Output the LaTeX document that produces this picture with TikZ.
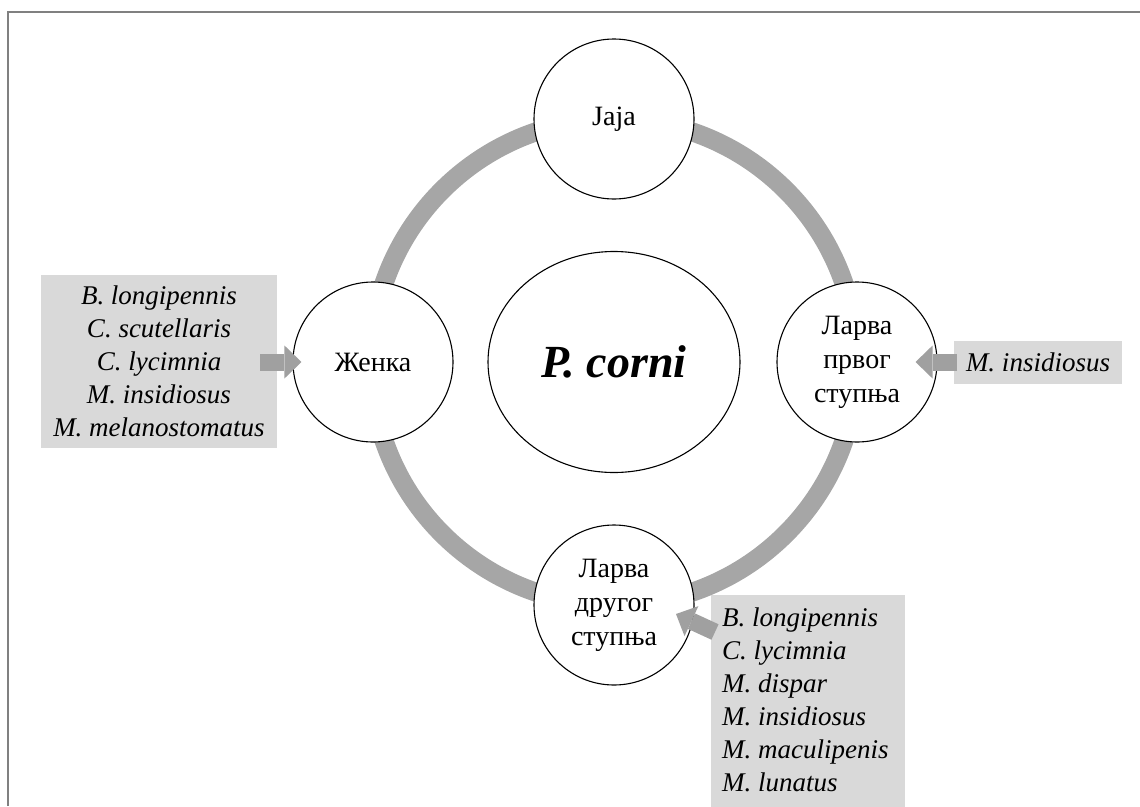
\documentclass[tikz,border=0pt]{standalone}
\usepackage{fontspec}
\setmainfont{Liberation Serif}
\usepackage{tikz}
\usetikzlibrary{arrows.meta,shapes.geometric,positioning,calc}
\usepackage{xcolor}
\definecolor{ringgray}{RGB}{166,166,166}
\definecolor{boxgray}{RGB}{217,217,217}
\definecolor{arrowgray}{RGB}{160,160,160}
\definecolor{framegray}{RGB}{128,128,128}
\tikzstyle{stage} = [circle, draw=black, line width=1.1pt, fill=white, minimum size=160pt, inner sep=0pt, align=center, font=\fontsize{28}{34}\selectfont]
\tikzstyle{hostbox} = [rectangle, fill=boxgray, inner sep=0pt]
\tikzstyle{parasites} = [font=\fontsize{27}{33}\selectfont\itshape, inner sep=0pt]
\tikzstyle{blockarrow} = [line width=17pt, draw=arrowgray, -{Triangle[length=17pt,width=33pt,line width=0pt]}]

\begin{document}
\begin{tikzpicture}[x=1pt, y=-1pt]
    \useasboundingbox (0,0) rectangle (1140,806);

    % Frame
    \draw[framegray, line width=2pt] (8,806) -- (8,12) -- (1140,12);

    % Cycle
    \coordinate (cyc) at (614,362);
    \draw[ringgray, line width=19pt] (cyc) circle (243pt);
    \node[ellipse, draw=black, line width=1.1pt, fill=white, minimum width=252pt, minimum height=221pt, inner sep=0pt, font=\fontsize{46}{50}\selectfont\bfseries\itshape] (pcorni) at (cyc) {P. corni};

    % Stages
    \node[stage] (jaja) at (614,119) {Jaja};
    \node[stage] (zenka) at (373,362) {Женка};
    \node[stage] (larva1) at (857,362) {Ларва\\првог\\ступња};
    \node[stage] (larva2) at (614,605) {Ларва\\другог\\ступња};

    % Parasitoids
    \node[hostbox, minimum width=236pt, minimum height=173pt] (leftbox) at (159,361) {};
    \node[parasites, align=center] (leftlist) at (leftbox) {B. longipennis\\C. scutellaris\\C. lycimnia\\M. insidiosus\\M. melanostomatus};
    \node[hostbox, minimum width=168pt, minimum height=43pt] (rightbox) at (1038,362) {};
    \node[parasites] (rightlist) at (rightbox) {M. insidiosus};
    \node[hostbox, anchor=north west, minimum width=194pt, minimum height=230pt] (lowbox) at (711,595) {};
    \node[parasites, align=left, anchor=west] (lowlist) at (722,700) {B. longipennis\\C. lycimnia\\M. dispar\\M. insidiosus\\M. maculipenis\\M. lunatus};

    % Arrows
    \coordinate (lefttail) at (260,362);
    \coordinate (righttail) at (957,362);
    \coordinate (lowtail) at (715,632);
    \draw[blockarrow] (lefttail) -- ($(zenka.west)+(9,0)$);
    \draw[blockarrow] (righttail) -- ($(larva1.east)+(-22,0)$);
    \draw[blockarrow] (lowtail) -- ($(larva2.center)+(62,9)$);
\end{tikzpicture}
\end{document}
